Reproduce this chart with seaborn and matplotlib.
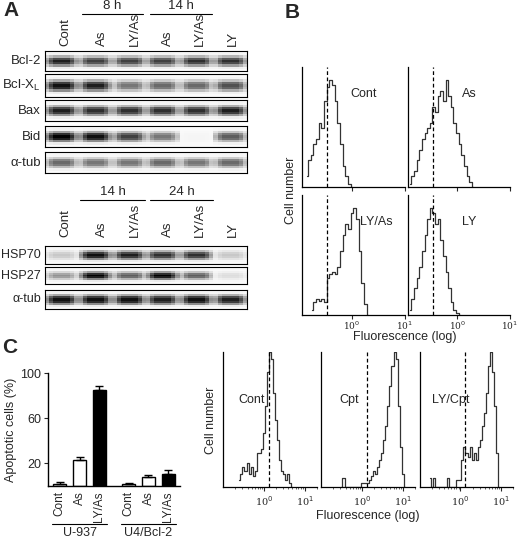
import numpy as np
import pandas as pd
import matplotlib
matplotlib.use("Agg")
import matplotlib.pyplot as plt
import seaborn as sns

sns.set_theme(style="ticks")
plt.rcParams['font.family'] = ['Liberation Sans', 'DejaVu Sans']

# ---------------- data ----------------
lanes = ["Cont", "As", "LY/As", "As", "LY/As", "LY"]
blot1_rows = ["Bcl-2", "Bcl-X$_\\mathregular{L}$", "Bax", "Bid", "α-tub"]
blot1_vals = [
    [0.9, 0.8, 0.8, 0.8, 0.85, 0.85],
    [0.95, 0.9, 0.6, 0.65, 0.65, 0.75],
    [0.9, 0.85, 0.85, 0.85, 0.85, 0.9],
    [1.0, 0.95, 0.8, 0.6, 0.05, 0.7],
    [0.65, 0.6, 0.6, 0.65, 0.6, 0.65],
]
blot2_rows = ["HSP70", "HSP27", "α-tub"]
blot2_vals = [
    [0.3, 0.95, 0.9, 0.85, 0.85, 0.3],
    [0.5, 1.0, 0.7, 1.0, 0.7, 0.2],
    [0.95, 0.95, 0.95, 0.9, 0.95, 0.9],
]

B_labels = ["Cont", "As", "LY/As", "LY"]
B_logx = [
    [-0.85,-0.8,-0.75,-0.7,-0.65,-0.6,-0.55,-0.5,-0.45,-0.4,-0.35,-0.3,-0.25,-0.2,-0.15,-0.1,-0.05,0.0],
    [-0.9,-0.85,-0.8,-0.75,-0.7,-0.65,-0.6,-0.55,-0.5,-0.45,-0.4,-0.35,-0.3,-0.25,-0.2,-0.15,-0.1,-0.05,0.0,0.05,0.1,0.15,0.2,0.25,0.3],
    [-0.75,-0.7,-0.65,-0.6,-0.55,-0.5,-0.45,-0.4,-0.35,-0.3,-0.25,-0.2,-0.15,-0.1,-0.05,0.0,0.05,0.1,0.15,0.2,0.25,0.3],
    [-0.9,-0.85,-0.8,-0.75,-0.7,-0.65,-0.6,-0.55,-0.5,-0.45,-0.4,-0.35,-0.3,-0.25,-0.2,-0.15,-0.1,-0.05,0.0,0.05],
]
B_h = [
    [0.1,0.25,0.3,0.4,0.45,0.6,0.55,0.8,0.93,1.0,0.95,0.8,0.6,0.4,0.2,0.1,0.03,0.0],
    [0.03,0.1,0.15,0.25,0.35,0.45,0.5,0.55,0.6,0.75,0.7,0.85,0.9,0.8,1.0,0.85,0.75,0.6,0.5,0.4,0.3,0.2,0.1,0.05,0.0],
    [0.05,0.12,0.15,0.13,0.15,0.12,0.35,0.38,0.4,0.38,0.45,0.6,0.75,0.85,0.8,0.95,1.0,0.9,0.6,0.3,0.1,0.0],
    [0.05,0.15,0.25,0.35,0.45,0.6,0.75,0.9,1.0,0.95,0.85,0.9,0.7,0.55,0.4,0.25,0.12,0.05,0.02,0.0],
]
B_dash = 0.34

C_groups = ["U-937", "U-937", "U-937", "U4/Bcl-2", "U4/Bcl-2", "U4/Bcl-2"]
C_treat = ["Cont", "As", "LY/As", "Cont", "As", "LY/As"]
C_vals = [2, 23, 85, 2, 8, 11]
C_err = [1.5, 3, 3.5, 1, 1.5, 3]

H_labels = ["Cont", "Cpt", "LY/Cpt"]
H_logx = [
    [-0.6,-0.55,-0.5,-0.45,-0.4,-0.35,-0.3,-0.25,-0.2,-0.15,-0.1,-0.05,0.0,0.05,0.1,0.15,0.2,0.25,0.3,0.35,0.4,0.45,0.5,0.55,0.6,0.65,0.7],
    [-0.5,-0.45,-0.4,-0.35,0.15,0.2,0.25,0.3,0.35,0.4,0.45,0.5,0.55,0.6,0.65,0.7,0.75,0.8,0.85,0.9,0.95,1.0,1.05],
    [-0.75,-0.7,-0.65,-0.6,-0.35,-0.3,-0.25,0.0,0.05,0.1,0.15,0.2,0.25,0.3,0.35,0.4,0.45,0.5,0.55,0.6,0.65,0.7,0.75,0.8,0.85,0.9,0.95],
]
H_h = [
    [0.05,0.1,0.15,0.12,0.18,0.1,0.15,0.08,0.12,0.25,0.25,0.28,0.4,0.6,0.85,1.0,0.95,0.7,0.5,0.35,0.2,0.12,0.1,0.05,0.1,0.03,0.0],
    [0.0,0.07,0.0,0.0,0.03,0.05,0.08,0.12,0.1,0.15,0.2,0.25,0.35,0.45,0.6,0.75,0.9,1.0,0.95,0.6,0.3,0.1,0.0],
    [0.07,0.0,0.07,0.0,0.0,0.07,0.0,0.05,0.2,0.3,0.25,0.22,0.3,0.2,0.25,0.2,0.3,0.35,0.45,0.55,0.7,0.9,1.0,0.85,0.6,0.25,0.0],
]
H_dash = 1.3

# ---------------- layout helpers ----------------
W, H = 520, 542
fig = plt.figure(figsize=(W/100, H/100), dpi=100)

def ax_px(x0, y0, x1, y1):
    return fig.add_axes([x0/W, 1-y1/H, (x1-x0)/W, (y1-y0)/H])

def ftxt(x, y, s, **kw):
    fig.text(x/W, 1-y/H, s, **kw)

# band shape (styling only)
vprofile = [0.0, 0.08, 0.45, 0.85, 1.0, 0.9, 0.55, 0.12, 0.0]
hprofile = [0.55, 0.85, 1.0, 1.0, 1.0, 1.0, 0.85, 0.55]
lane_x = [65, 102, 135, 168, 200, 233]

def blot(rows, vals, tops, bots, fs):
    for name, v, t, b in zip(rows, vals, tops, bots):
        ax = ax_px(45, t, 247, b)
        row = np.concatenate([np.array(hprofile) * val for val in v])
        mat = pd.DataFrame(np.outer(vprofile, row) * 0.95 + 0.04)
        sns.heatmap(mat, ax=ax, cmap="Greys", vmin=0, vmax=1, cbar=False,
                    xticklabels=False, yticklabels=False)
        for s in ax.spines.values():
            s.set_visible(True); s.set_color("black"); s.set_linewidth(0.8)
        ftxt(41, (t+b)/2, name, ha="right", va="center", fontsize=fs)

def lane_header(y_bottom, line_y, times):
    for lx, lab in zip(lane_x, lanes):
        ftxt(lx, y_bottom, lab, rotation=90, ha="center", va="bottom", fontsize=9.5)
    for (x0, x1, t) in times:
        fig.add_artist(plt.Line2D([x0/W, x1/W], [1-line_y/H]*2, color="black", lw=0.8))
        ftxt((x0+x1)/2, line_y-2, t, ha="center", va="bottom", fontsize=9.5)

# ---------------- Panel A ----------------
ftxt(3, 1, "A", fontsize=15, fontweight="bold", va="top")
lane_header(46, 14, [(82, 143, "8 h"), (150, 212, "14 h")])
blot(blot1_rows, blot1_vals, [51, 74, 100, 126, 152], [71, 97, 121, 147, 173], 9.5)
lane_header(237, 200, [(80, 145, "14 h"), (150, 213, "24 h")])
blot(blot2_rows, blot2_vals, [246, 267, 290], [264, 284, 309], 9)

# ---------------- Panel B ----------------
ftxt(285, 3, "B", fontsize=15, fontweight="bold", va="top")
B_rects = [(302, 67, 405, 187), (408, 67, 510, 187), (302, 195, 405, 315), (408, 195, 510, 315)]
for i, (r, lab, lx, hh) in enumerate(zip(B_rects, B_labels, B_logx, B_h)):
    ax = ax_px(*r)
    df = pd.DataFrame({"x": 10**np.array(lx), "y": hh})
    sns.lineplot(data=df, x="x", y="y", ax=ax, color="#333333", lw=0.9, drawstyle="steps-mid")
    ax.set_xscale("log")
    ax.set_xlim(0.115, 10)
    ax.set_ylim(0, 1.12)
    ax.axvline(B_dash, color="black", ls=(0, (3, 2)), lw=0.9)
    ax.set_yticks([]); ax.set_xlabel(""); ax.set_ylabel("")
    sns.despine(ax=ax, top=True, right=True)
    for s in ["left", "bottom"]:
        ax.spines[s].set_linewidth(0.9); ax.spines[s].set_color("black")
    ax.set_xticks([1, 10])
    ax.tick_params(axis="x", length=3, width=0.8, direction="out", labelsize=6.5, pad=0)
    ax.tick_params(axis="x", which="minor", length=0)
    if i < 2:
        ax.set_xticklabels([])
    else:
        ax.set_xticklabels(["10$^0$", "10$^1$"], family="serif")
    ax.text(0.6 if i != 2 else 0.72, 0.75, lab, transform=ax.transAxes, fontsize=9, ha="center")
ftxt(291, 190, "Cell number", rotation=90, ha="center", va="center", fontsize=9)
ftxt(405, 337, "Fluorescence (log)", ha="center", va="center", fontsize=9)

# ---------------- Panel C bar ----------------
ftxt(2, 338, "C", fontsize=15, fontweight="bold", va="top")
ax = ax_px(48, 373, 180, 486)
xpos = [0, 1, 2, 3.5, 4.5, 5.5]
colors = {"Cont": "white", "As": "white", "LY/As": "black"}
for xp, v, e, t in zip(xpos, C_vals, C_err, C_treat):
    ax.bar(xp, v, width=0.65, color=colors[t], edgecolor="black", lw=1)
    ax.errorbar(xp, v, yerr=[[0], [e]], color="black", capsize=3, lw=1, capthick=1)
ax.set_xlim(-0.6, 6.1)
ax.set_ylim(0, 100)
ax.set_yticks([20, 60, 100])
ax.set_xticks([])
ax.tick_params(axis="y", labelsize=9, length=3, width=0.8, pad=2)
sns.despine(ax=ax)
for s in ["left", "bottom"]:
    ax.spines[s].set_linewidth(1); ax.spines[s].set_color("black")
ax.set_ylabel("Apoptotic cells (%)", fontsize=9, labelpad=2)
for xp, t in zip(xpos, C_treat):
    xd = ax.transData.transform((xp, 0))[0]
    fig.text(xd/fig.bbox.width, 1-491/H, t, rotation=90, ha="center", va="top", fontsize=8.5)
for g, (a, b) in [("U-937", (0, 2)), ("U4/Bcl-2", (3.5, 5.5))]:
    xa = ax.transData.transform((a-0.4, 0))[0]/fig.bbox.width
    xb = ax.transData.transform((b+0.4, 0))[0]/fig.bbox.width
    fig.add_artist(plt.Line2D([xa, xb], [1-524/H]*2, color="black", lw=0.8))
    fig.text((xa+xb)/2, 1-527/H, g, ha="center", va="top", fontsize=9)

# ---------------- Panel C histograms ----------------
H_rects = [(223, 352, 317, 487), (321, 352, 415, 487), (420, 352, 513, 487)]
for i, (r, lab, lx, hh) in enumerate(zip(H_rects, H_labels, H_logx, H_h)):
    ax = ax_px(*r)
    df = pd.DataFrame({"x": 10**np.array(lx), "y": hh})
    sns.lineplot(data=df, x="x", y="y", ax=ax, color="#333333", lw=0.9, drawstyle="steps-mid")
    ax.set_xscale("log")
    ax.set_xlim(0.1, 20)
    ax.set_ylim(0, 1.0)
    ax.axvline(H_dash, color="black", ls=(0, (3, 2)), lw=0.9)
    ax.set_yticks([]); ax.set_xlabel(""); ax.set_ylabel("")
    sns.despine(ax=ax)
    for s in ["left", "bottom"]:
        ax.spines[s].set_linewidth(0.9); ax.spines[s].set_color("black")
    ax.set_xticks([1, 10])
    ax.set_xticklabels(["10$^0$", "10$^1$"], family="serif")
    ax.tick_params(axis="x", which="major", length=3, width=0.8, labelsize=7, pad=2)
    ax.tick_params(axis="x", which="minor", length=1.5, width=0.5)
    ax.text(0.3 if i < 2 else 0.33, 0.62, lab, transform=ax.transAxes, fontsize=9, ha="center")
ftxt(211, 420, "Cell number", rotation=90, ha="center", va="center", fontsize=9)
ftxt(368, 516, "Fluorescence (log)", ha="center", va="center", fontsize=9)

fig.savefig("out.png", dpi=100)
